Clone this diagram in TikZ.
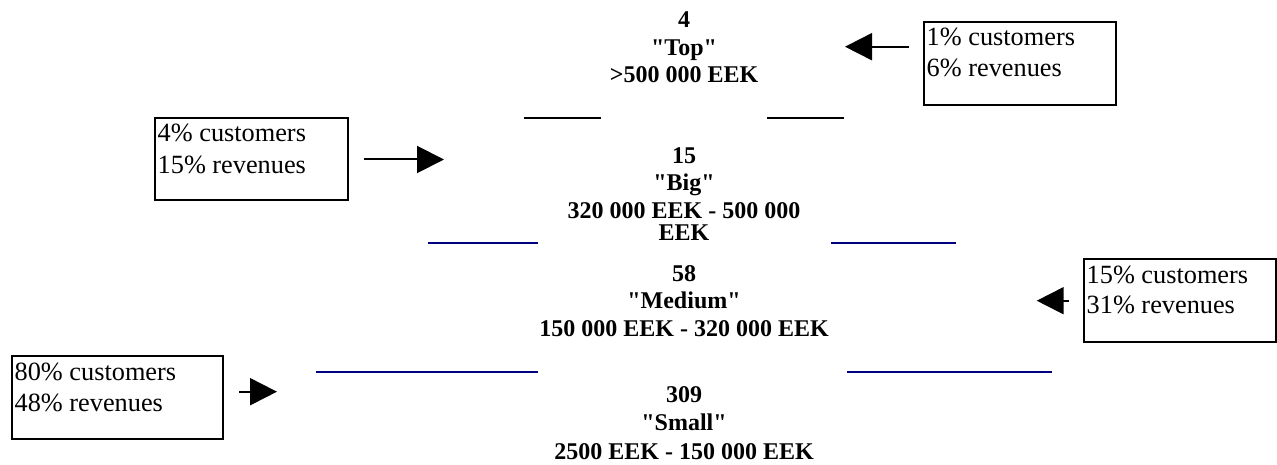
\documentclass[tikz,border=0pt]{standalone}
\usepackage{fontspec}
% no TeX ligature mapping, so " stays a straight double quote
\setmainfont{Liberation Serif}[Ligatures=TeXOff]
\usetikzlibrary{arrows.meta}
\definecolor{ruleblue}{RGB}{0,0,128}
\begin{document}
\begin{tikzpicture}[x=1pt,y=-1pt,
  tier/.style={anchor=base, inner sep=0pt, font=\fontsize{24}{28}\selectfont\bfseries},
  notebox/.style={draw, line width=2pt, anchor=north west, inner sep=0pt},
  notetext/.style={anchor=base west, inner sep=0pt, font=\fontsize{26.3}{31}\selectfont},
  arr/.style={line width=2pt, -{Triangle[length=27pt,width=27pt]}},
  blacksep/.style={line width=2pt},
  bluesep/.style={line width=2pt, draw=ruleblue}]
\useasboundingbox (0,0) rectangle (1277,465);

% --- tier labels -------------------------------------------------------
\node[tier] (top1) at (684,28)   {4};
\node[tier] (top2) at (684,55.5) {"Top"};
\node[tier] (top3) at (684,83)   {>500 000 EEK};

\node[tier] (big1) at (684,163.5) {15};
\node[tier] (big2) at (684,190.5) {"Big"};
\node[tier] (big3) at (684,218.5) {320 000 EEK - 500 000};
\node[tier] (big4) at (684,240.5) {EEK};

\node[tier] (med1) at (684,281) {58};
\node[tier] (med2) at (684,308) {"Medium"};
\node[tier] (med3) at (684,336) {150 000 EEK - 320 000 EEK};

\node[tier] (sml1) at (684,402) {309};
\node[tier] (sml2) at (684,430) {"Small"};
\node[tier] (sml3) at (684,459) {2500 EEK - 150 000 EEK};

% --- separators between tiers -----------------------------------------
\coordinate (s1a) at (524,118);   \coordinate (s1b) at (601,118);
\coordinate (s1c) at (767,118);   \coordinate (s1d) at (844,118);
\coordinate (s2a) at (428,243.3); \coordinate (s2b) at (537.7,243.3);
\coordinate (s2c) at (831,243.3); \coordinate (s2d) at (956,243.3);
\coordinate (s3a) at (316,372);   \coordinate (s3b) at (538,372);
\coordinate (s3c) at (846.7,372); \coordinate (s3d) at (1052,372);
\draw[blacksep] (s1a) -- (s1b);
\draw[blacksep] (s1c) -- (s1d);
\draw[bluesep] (s2a) -- (s2b);
\draw[bluesep] (s2c) -- (s2d);
\draw[bluesep] (s3a) -- (s3b);
\draw[bluesep] (s3c) -- (s3d);

% --- share boxes ------------------------------------------------------
\node[notebox, minimum width=192pt, minimum height=83pt] (box1) at (922.7,21) {};
\node[notetext] (box1a) at (926.5,45.7) {1\% customers};
\node[notetext] (box1b) at (926.5,76.7) {6\% revenues};

\node[notebox, minimum width=193pt, minimum height=82pt] (box2) at (154,117) {};
\node[notetext] (box2a) at (157.5,141.7) {4\% customers};
\node[notetext] (box2b) at (157.5,173.3) {15\% revenues};

\node[notebox, minimum width=192pt, minimum height=83pt] (box3) at (1082.7,257.7) {};
\node[notetext] (box3a) at (1086.5,283.3) {15\% customers};
\node[notetext] (box3b) at (1086.5,313.3) {31\% revenues};

\node[notebox, minimum width=211pt, minimum height=83pt] (box4) at (10.7,355) {};
\node[notetext] (box4a) at (14.5,380) {80\% customers};
\node[notetext] (box4b) at (14.5,411.7) {48\% revenues};

% --- arrows -----------------------------------------------------------
\coordinate (a1s) at (909,46.7);   \coordinate (a1e) at (845,46.7);
\coordinate (a2s) at (364,159.5);  \coordinate (a2e) at (444,159.5);
\coordinate (a3s) at (1069,300.7); \coordinate (a3e) at (1036.7,300.7);
\coordinate (a4s) at (239,391.7);  \coordinate (a4e) at (277,391.7);
\draw[arr] (a1s) -- (a1e);
\draw[arr] (a2s) -- (a2e);
\draw[arr] (a3s) -- (a3e);
\draw[arr] (a4s) -- (a4e);
\end{tikzpicture}
\end{document}
